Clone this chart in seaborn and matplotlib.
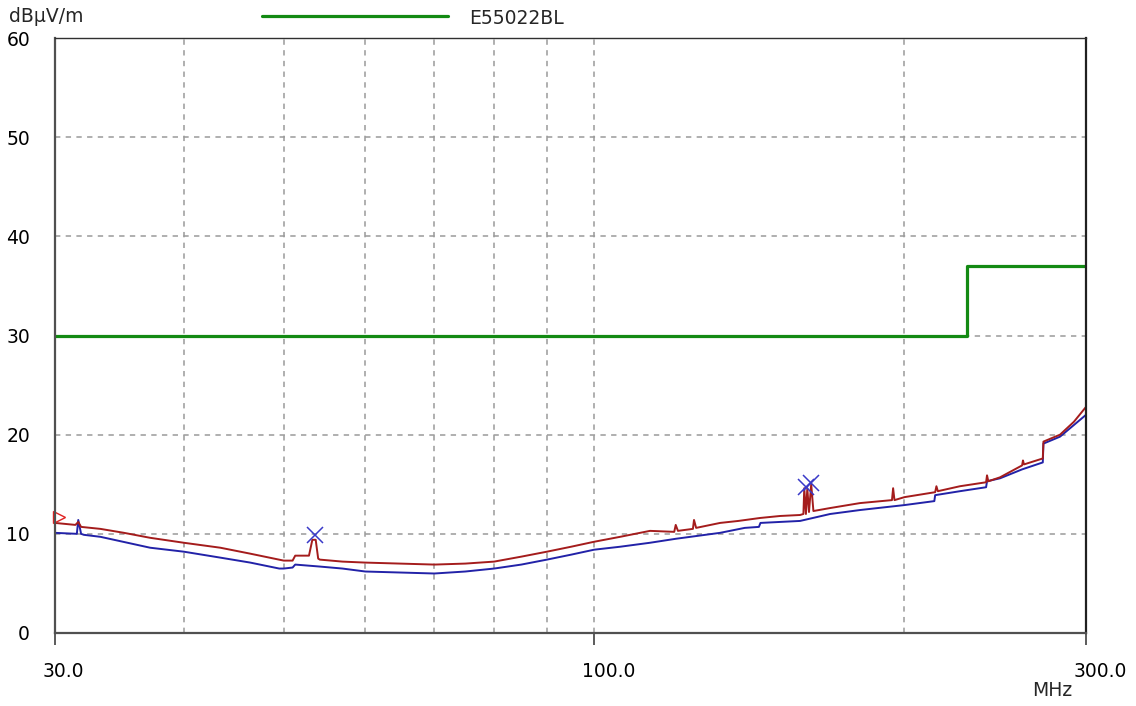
import matplotlib
matplotlib.use("Agg")
import matplotlib.pyplot as plt
import matplotlib.transforms as mtransforms
import seaborn as sns
import pandas as pd

# ---------------- data ----------------
peak_freq = [30.0, 31.4, 31.6, 31.8, 33.2, 35.0, 37.1, 40.0, 43.4, 46.4, 50.0, 51.0, 51.3, 52.9,
             53.3, 53.7, 54.0, 54.2, 57.0, 60.0, 64.8, 70.0, 75.0, 80.0, 85.0, 90.0, 95.0, 100.0,
             106.0, 113.3, 119.6, 120.0, 120.6, 124.7, 125.0, 125.6, 132.5, 138.0, 144.9, 151.5, 158.4,
             159.6, 159.9, 160.5, 161.0, 161.6, 162.4, 163.2, 169.4, 181.1, 194.5, 195.0, 195.6,
             200.0, 214.2, 214.8, 215.5, 226.4, 240.0, 240.5, 241.2, 247.6, 260.1, 260.6, 261.2,
             272.4, 272.8, 283.1, 292.0, 300.0]
peak_db = [11.1, 10.9, 11.2, 10.7, 10.5, 10.1, 9.6, 9.1, 8.6, 8.0, 7.3, 7.3, 7.8, 7.8,
           9.4, 9.4, 7.5, 7.4, 7.2, 7.1, 7.0, 6.9, 7.0, 7.2, 7.7, 8.2, 8.7, 9.2,
           9.7, 10.3, 10.2, 10.9, 10.3, 10.5, 11.4, 10.6, 11.1, 11.3, 11.6, 11.8, 11.9,
           12.0, 14.6, 12.0, 14.6, 12.2, 15.0, 12.3, 12.6, 13.1, 13.4, 14.6, 13.4,
           13.7, 14.2, 14.8, 14.3, 14.8, 15.2, 15.9, 15.3, 15.7, 16.9, 17.4, 17.0,
           17.6, 19.3, 20.0, 21.3, 22.8]

avg_freq = [30.0, 31.5, 31.6, 31.8, 32.0, 33.2, 37.1, 40.0, 43.4, 46.4, 49.5, 50.0, 51.0, 51.3,
            54.2, 57.0, 60.0, 64.8, 70.0, 75.0, 80.0, 85.0, 90.0, 95.0, 100.0, 106.0, 113.3,
            120.0, 132.5, 140.0, 144.5, 145.0, 151.5, 158.4, 169.4, 181.1, 200.0, 213.8, 214.2,
            226.4, 240.0, 240.5, 247.6, 260.1, 272.4, 272.8, 283.1, 300.0]
avg_db = [10.1, 10.0, 11.4, 10.0, 9.9, 9.7, 8.6, 8.2, 7.6, 7.1, 6.5, 6.5, 6.6, 6.9,
          6.7, 6.5, 6.2, 6.1, 6.0, 6.2, 6.5, 6.9, 7.4, 7.9, 8.4, 8.7, 9.1,
          9.5, 10.1, 10.6, 10.7, 11.1, 11.2, 11.3, 12.0, 12.4, 12.9, 13.3, 13.9,
          14.3, 14.7, 15.3, 15.6, 16.5, 17.2, 19.1, 19.8, 22.0]

limit_freq = [30.0, 230.0, 230.0, 300.0]
limit_db = [30.0, 30.0, 37.0, 37.0]
limit_name = "E55022BL"

marker_freq = [53.6, 160.5, 162.5]
marker_db = [9.9, 14.7, 15.1]

start_freq = [30.27]
start_db = [11.7]

x_ticks = [30.0, 100.0, 300.0]
x_ticklabels = ["30.0", "100.0", "300.0"]
x_grid = [40, 50, 60, 70, 80, 90, 100, 200]
y_ticks = [0, 10, 20, 30, 40, 50, 60]
y_label = "dBµV/m"
x_label = "MHz"

# ---------------- style ----------------
sns.set_style("white")
plt.rcParams['font.family'] = ['DejaVu Sans']
FS = 13.5

fig = plt.figure(figsize=(11.36, 7.06), dpi=100)
ax = fig.add_axes([55/1136, (706-633)/706, (1086-55)/1136, (633-38)/706])

df_peak = pd.DataFrame({"f": peak_freq, "v": peak_db})
df_avg = pd.DataFrame({"f": avg_freq, "v": avg_db})
df_lim = pd.DataFrame({"f": limit_freq, "v": limit_db})

ax.set_xscale("log")
ax.set_xlim(30, 300)
ax.set_ylim(0, 60)

# grid
for gx in x_grid:
    ax.axvline(gx, color="#9a9a9a", lw=1.1, ls=(0, (3.5, 3.5)), zorder=1)
for gy in y_ticks[1:-1]:
    ax.axhline(gy, color="#9a9a9a", lw=1.1, ls=(0, (3.5, 3.5)), zorder=1)

sns.lineplot(data=df_lim, x="f", y="v", ax=ax, color="#138a13", lw=2.3,
             estimator=None, sort=False, zorder=3)
sns.lineplot(data=df_avg, x="f", y="v", ax=ax, color="#2222a8", lw=1.4,
             estimator=None, sort=False, zorder=4)
sns.lineplot(data=df_peak, x="f", y="v", ax=ax, color="#a41c1c", lw=1.4,
             estimator=None, sort=False, zorder=5)

ax.plot(marker_freq, marker_db, ls="none", marker="x", ms=11, mew=1.1,
        color="#3a3ac8", zorder=6)
ax.plot(start_freq, start_db, ls="none", marker=">", ms=8, mew=1.0,
        mfc="none", mec="#e02020", zorder=6, clip_on=False)

ax.set_xlabel("")
ax.set_ylabel("")
ax.set_xticks(x_ticks)
ax.set_xticklabels(x_ticklabels)
ax.xaxis.set_minor_locator(matplotlib.ticker.NullLocator())
ax.set_yticks(y_ticks)
ax.set_yticklabels([str(v) for v in y_ticks])
ax.tick_params(axis="y", length=0, labelsize=FS, colors="#000000", pad=18)
ax.tick_params(axis="x", which="major", direction="out", length=8.6, width=1.2,
               color="#404040", labelsize=FS, labelcolor="#000000", pad=12, bottom=True)

offset = mtransforms.ScaledTranslation(-12/100, 0, fig.dpi_scale_trans)
for lab in ax.get_xticklabels():
    lab.set_ha("left")
    lab.set_transform(lab.get_transform() + offset)

for s in ["left", "bottom"]:
    ax.spines[s].set_color("#505050")
    ax.spines[s].set_linewidth(1.6)
ax.spines["right"].set_color("#202020")
ax.spines["right"].set_linewidth(1.6)
ax.spines["top"].set_color("#303030")
ax.spines["top"].set_linewidth(1.0)
for s in ax.spines.values():
    s.set_visible(True)
    s.set_zorder(7)

fig.text(9/1136, 1 - 16/706, y_label, fontsize=FS, va="center", ha="left")
fig.text(1072/1136, 1 - 690/706, x_label, fontsize=FS, va="center", ha="right")

# legend
fig.add_artist(matplotlib.lines.Line2D([262/1136, 448/1136], [1 - 16/706, 1 - 16/706],
                                       color="#138a13", lw=2.3))
fig.text(469/1136, 1 - 18/706, limit_name, fontsize=FS, va="center", ha="left")

fig.savefig("out.png", dpi=100, facecolor="white")
